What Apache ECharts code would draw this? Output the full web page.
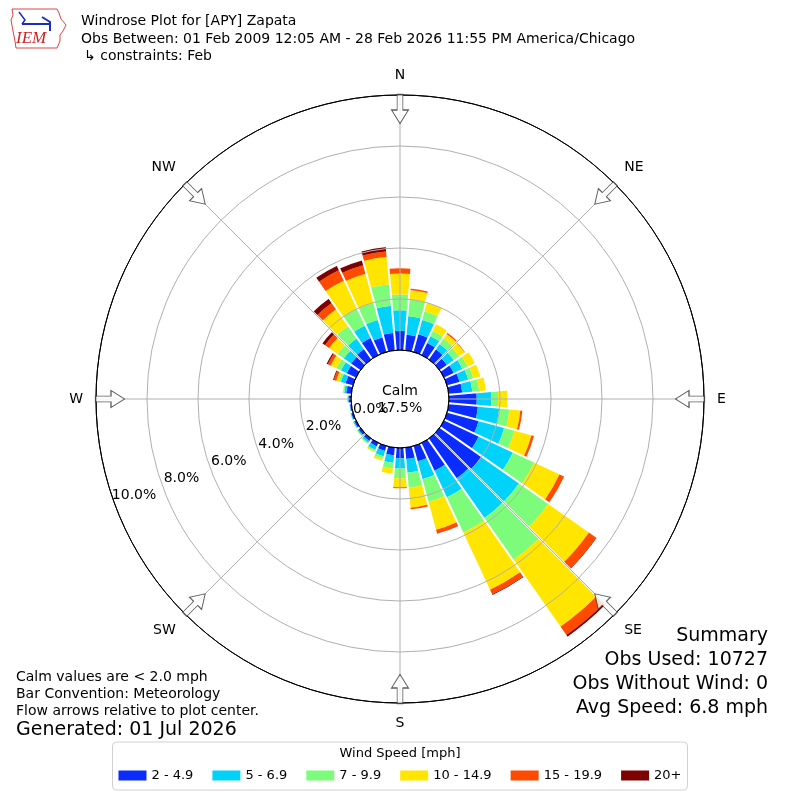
<!DOCTYPE html>
<html>
<head>
<meta charset="utf-8">
<script src="https://cdn.jsdelivr.net/npm/echarts@6/dist/echarts.min.js"></script>
<style>
  html, body { margin: 0; padding: 0; background: #fff; }
  #rose { width: 800px; height: 800px; }
</style>
</head>
<body>
<div id="rose"></div>
<script>
// direction bins (degrees, meteorological convention), 10 deg sectors
var directions = ['0','10','20','30','40','50','60','70','80','90','100','110',
    '120','130','140','150','160','170','180','190','200','210','220','230',
    '240','250','260','270','280','290','300','310','320','330','340','350'];

// speed classes and their colours
var speedBins = ['2 - 4.9', '5 - 6.9', '7 - 9.9', '10 - 14.9', '15 - 19.9', '20+'];
var speedColors = ['#0a2cff', '#00d2fa', '#7dfc7b', '#ffe500', '#ff4a00', '#7f0000'];

// frequency (%) per direction for every speed class
var s2_49 = [0.75,0.62,0.72,0.52,0.48,0.35,0.42,0.51,0.53,1.09,1.15,1.28,1.5,2.0,1.9,1.2,0.62,0.44,
    0.4,0.3,0.2,0.15,0.12,0.1,0.08,0.07,0.05,0.1,0.2,0.3,0.4,0.45,0.5,0.74,0.6,0.69];
var s5_69 = [0.81,0.73,0.58,0.3,0.26,0.33,0.38,0.35,0.4,0.58,0.84,1.04,1.48,1.8,1.9,1.15,0.73,0.54,
    0.4,0.3,0.22,0.15,0.08,0.05,0.04,0.03,0.02,0.03,0.08,0.19,0.25,0.35,0.5,0.53,0.7,1.06];
var s7_99 = [0.62,0.66,0.35,0.22,0.26,0.26,0.22,0.21,0.27,0.26,0.4,0.42,0.92,1.4,2.0,1.53,0.92,0.59,
    0.39,0.22,0.09,0.06,0.04,0.02,0.01,0.01,0,0.02,0.04,0.09,0.2,0.3,0.6,0.75,0.69,0.85];
var s10_149 = [0.82,0.36,0.35,0.29,0.22,0.26,0.31,0.28,0.26,0.36,0.43,0.69,1.1,1.95,3.2,2.47,1.13,0.79,
    0.35,0.2,0.09,0.04,0.02,0.01,0.01,0,0,0,0.02,0.1,0.25,0.4,0.8,1.2,1.18,1.08];
var s15_199 = [0.21,0.06,0,0,0.05,0.02,0,0,0,0,0.08,0.1,0.2,0.35,0.4,0.2,0.15,0.07,
    0.04,0,0,0,0,0,0,0,0,0,0,0.1,0.12,0.2,0.3,0.45,0.35,0.21];
var s20p = [0,0,0,0,0,0,0,0,0,0,0,0,0,0.02,0.08,0.03,0.01,0,
    0,0,0,0,0,0,0,0,0,0,0,0.03,0.05,0.12,0.2,0.19,0.19,0.17];
var speedData = [s2_49, s5_69, s7_99, s10_149, s15_199, s20p];

// compass labels and the flow arrows on the frame
var compass = ['N', 'NE', 'E', 'SE', 'S', 'SW', 'W', 'NW'];
var arrowBearings = [0, 45, 90, 135, 180, 225, 270, 315];

var summary = ['Summary', 'Obs Used: 10727', 'Obs Without Wind: 0', 'Avg Speed: 6.8 mph'];
var notes = ['Calm values are < 2.0 mph', 'Bar Convention: Meteorology', 'Flow arrows relative to plot center.'];

var FONT = '"DejaVu Sans", sans-serif';
var CENTER = [400, 399];

var myChart = echarts.init(document.getElementById('rose'), null, {renderer: 'canvas'});

function hidden() {
    return {show: false};
}

// stacked bars, one series per speed class
var series = speedBins.map(function (name, i) {
    return {
        name: name,
        type: 'bar',
        coordinateSystem: 'polar',
        polarIndex: 0,
        stack: 'wind',
        barCategoryGap: '0%',
        itemStyle: {color: speedColors[i]},
        data: speedData[i],
        z: 2
    };
});

// flow arrows, pointing to the centre
series.push({
    name: 'arrows',
    type: 'scatter',
    coordinateSystem: 'polar',
    polarIndex: 2,
    symbol: 'path://M6,0 L12,0 L12,16 L18,16 L9,30 L0,16 L6,16 Z',
    symbolSize: [17, 29],
    silent: true,
    itemStyle: {color: '#fff', borderColor: '#333', borderWidth: 1},
    data: arrowBearings.map(function (b) {
        return {value: [9.45, b], symbolRotate: -b};
    }),
    z: 6
});

var graphics = [
    // little IEM logo
    {type: 'polygon', shape: {points: [[12,9],[57,9],[59,13],[61,19],[66,25],[63,31],[60,35],[60,41],[57,48],[16,48],[15,41],[13,31],[11,20],[13,15]]},
        style: {fill: 'none', stroke: '#d44', lineWidth: 1}},
    {type: 'polyline', shape: {points: [[22,24],[50,24]]}, style: {stroke: '#1a2cc8', lineWidth: 2}},
    {type: 'polyline', shape: {points: [[19,12],[25,20],[22,24]]}, style: {stroke: '#1a2cc8', lineWidth: 1.5, fill: 'none'}},
    {type: 'polyline', shape: {points: [[42,17],[50,22],[50,31]]}, style: {stroke: '#1a2cc8', lineWidth: 2, fill: 'none'}},
    {type: 'text', x: 16, y: 30, style: {text: 'IEM', font: 'italic 17px "Liberation Serif", serif', fill: '#cc2222'}},
    // header
    {type: 'text', x: 81, y: 14, style: {text: 'Windrose Plot for [APY] Zapata', font: '14px ' + FONT, fill: '#000'}},
    {type: 'text', x: 81, y: 32, style: {text: 'Obs Between: 01 Feb 2009 12:05 AM - 28 Feb 2026 11:55 PM America/Chicago', font: '14px ' + FONT, fill: '#000'}},
    {type: 'text', x: 84, y: 49, style: {text: '\u21b3 constraints: Feb', font: '14px ' + FONT, fill: '#000'}},
    // calm in the middle
    {type: 'text', x: 400, y: 384, style: {text: 'Calm', font: '14px ' + FONT, fill: '#000', align: 'center', textAlign: 'center'}},
    {type: 'text', x: 400, y: 401, style: {text: '17.5%', font: '14px ' + FONT, fill: '#000', align: 'center', textAlign: 'center'}},
    // legend caption
    {type: 'text', x: 400, y: 747, style: {text: 'Wind Speed [mph]', font: '13px ' + FONT, fill: '#000', align: 'center', textAlign: 'center'}},
    {type: 'text', x: 16, y: 721, style: {text: 'Generated: 01 Jul 2026', font: '19px ' + FONT, fill: '#000'}}
];
notes.forEach(function (t, i) {
    graphics.push({type: 'text', x: 16, y: 670 + i * 17, style: {text: t, font: '14px ' + FONT, fill: '#000'}});
});
summary.forEach(function (t, i) {
    graphics.push({type: 'text', x: 768, y: 627 + i * 23.7,
        style: {text: t, font: '19px ' + FONT, fill: '#000', align: 'right', textAlign: 'right'}});
});

var option = {
    animation: false,
    backgroundColor: '#fff',
    textStyle: {fontFamily: FONT},
    polar: [
        {center: CENTER, radius: [49, 304]},   // bars
        {center: CENTER, radius: [49, 304]},   // white separators
        {center: CENTER, radius: [49, 304]},   // grid + compass
        {center: CENTER, radius: [31, 283]}    // radial % labels
    ],
    angleAxis: [
        {polarIndex: 0, type: 'category', data: directions, startAngle: 95, clockwise: true,
            axisLine: hidden(), axisTick: hidden(), axisLabel: hidden(), splitLine: hidden()},
        {polarIndex: 1, type: 'value', min: 0, max: 360, interval: 10, startAngle: 95, clockwise: true, z: 3,
            axisLine: hidden(), axisTick: hidden(), axisLabel: hidden(),
            splitLine: {show: true, lineStyle: {color: '#fff', width: 2}}},
        {polarIndex: 2, type: 'value', min: 0, max: 360, interval: 45, startAngle: 90, clockwise: true, z: 4,
            axisLine: {show: true, lineStyle: {color: '#000', width: 1}},
            axisTick: hidden(),
            axisLabel: {show: true, margin: 13, color: '#000', fontSize: 14, fontFamily: FONT,
                align: 'center', verticalAlign: 'middle',
                formatter: function (v) { return compass[Math.round(v / 45) % 8]; }},
            splitLine: {show: true, lineStyle: {color: '#b0b0b0', width: 1}}},
        {polarIndex: 3, type: 'value', min: 0, max: 360, startAngle: 200, clockwise: true,
            axisLine: hidden(), axisTick: hidden(), axisLabel: hidden(), splitLine: hidden()}
    ],
    radiusAxis: [
        {polarIndex: 0, type: 'value', min: 0, max: 10,
            axisLine: hidden(), axisTick: hidden(), axisLabel: hidden(), splitLine: hidden()},
        {polarIndex: 1, type: 'value', min: 0, max: 10,
            axisLine: hidden(), axisTick: hidden(), axisLabel: hidden(), splitLine: hidden()},
        {polarIndex: 2, type: 'value', min: 0, max: 10, interval: 2, z: 4,
            axisLine: hidden(), axisTick: hidden(), axisLabel: hidden(),
            splitLine: {show: true, lineStyle: {color: ['#000', '#b0b0b0', '#b0b0b0', '#b0b0b0', '#b0b0b0', '#000'], width: 1}}},
        {polarIndex: 3, type: 'value', min: 0, max: 10, interval: 2, z: 5,
            axisLine: hidden(), axisTick: hidden(), splitLine: hidden(),
            axisLabel: {show: true, margin: 0, color: '#000', fontSize: 14, fontFamily: FONT,
                align: 'center', verticalAlign: 'middle',
                formatter: function (v) { return v.toFixed(1) + '%'; }}}
    ],
    legend: {
        data: speedBins,
        bottom: 10,
        left: 'center',
        icon: 'rect',
        itemWidth: 28,
        itemHeight: 10,
        itemGap: 19,
        padding: [27, 6, 8, 6],
        borderColor: '#d0d0d0',
        borderWidth: 1,
        borderRadius: 4,
        textStyle: {color: '#000', fontSize: 13, fontFamily: FONT},
        selectedMode: false
    },
    graphic: graphics,
    series: series
};

myChart.setOption(option);
</script>
</body>
</html>
